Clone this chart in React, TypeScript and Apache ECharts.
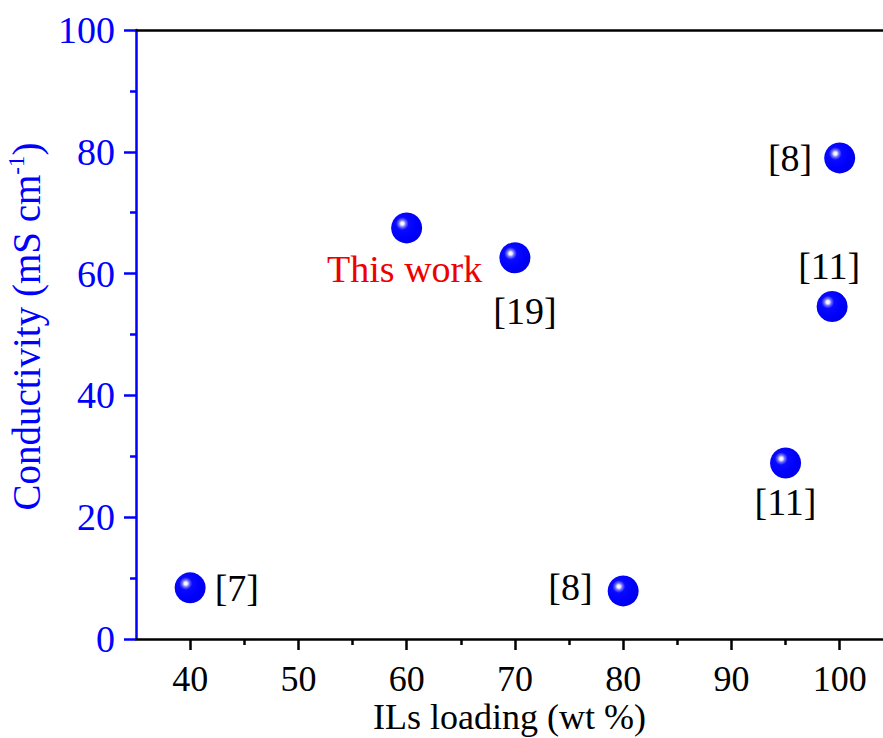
import React, { useEffect, useRef } from "react";
import * as echarts from "echarts";

const loading = [40, 60, 70, 80, 95, 99.3, 100];
const conductivity = [8.4, 67.5, 62.6, 7.9, 28.9, 54.6, 79.0];
const refLabels = ["[7]", "This work", "[19]", "[8]", "[11]", "[11]", "[8]"];
const xMajorTicks = [40, 50, 60, 70, 80, 90, 100];
const xMinorTicks = [45, 55, 65, 75, 85, 95];

const FONT = '"Liberation Serif", "Times New Roman", serif';

const labelStyles: any[] = [
  { position: "right", distance: 9 },
  { position: "bottom", distance: 7, color: "#ee0000", offset: [-2, 0] },
  { position: "bottom", distance: 19, offset: [10, 0] },
  { position: "left", distance: 15, offset: [0, -4] },
  { position: "bottom", distance: 5, offset: [0, 0] },
  { position: "top", distance: 6, offset: [-3, 0] },
  { position: "left", distance: 12 },
];

export default function App() {
  const ref = useRef<HTMLDivElement>(null);
  useEffect(() => {
    const chart = echarts.init(ref.current!, null, { renderer: "svg" });
    const ball = new echarts.graphic.RadialGradient(0.36, 0.36, 0.64, [
      { offset: 0, color: "#ffffff" },
      { offset: 0.08, color: "#f0f0ff" },
      { offset: 0.18, color: "#7070ff" },
      { offset: 0.32, color: "#0a0aff" },
      { offset: 0.7, color: "#0000ff" },
      { offset: 1, color: "#0000ea" },
    ]);
    const data = loading.map((x, i) => ({
      value: [x, conductivity[i]],
      label: {
        show: true,
        formatter: refLabels[i],
        fontFamily: FONT,
        fontSize: 38,
        color: "#000000",
        textBorderWidth: 0,
        ...labelStyles[i],
      },
    }));
    chart.setOption({
      animation: false,
      textStyle: { fontFamily: FONT },
      grid: { left: 136, top: 30, right: 0, bottom: 99, containLabel: false, outerBoundsMode: "none" },
      xAxis: [
        {
          type: "value",
          min: 35,
          max: 104,
          name: "ILs loading (wt %)",
          nameLocation: "middle",
          nameGap: 60,
          nameMoveOverlap: false,
          nameTextStyle: { fontFamily: FONT, fontSize: 36, color: "#000000" },
          axisLine: { show: true, onZero: false, lineStyle: { color: "#000000", width: 2.5 } },
          axisTick: { show: true, customValues: xMajorTicks, length: 11, lineStyle: { color: "#000000", width: 2.5 } },
          axisLabel: { customValues: xMajorTicks, margin: 22, fontFamily: FONT, fontSize: 36, color: "#000000" },
          splitLine: { show: false },
        },
        {
          type: "value",
          min: 35,
          max: 104,
          position: "bottom",
          axisLine: { show: false },
          axisTick: { show: true, customValues: xMinorTicks, length: 6, lineStyle: { color: "#000000", width: 2.5 } },
          axisLabel: { show: false },
          splitLine: { show: false },
        },
        {
          type: "value",
          min: 35,
          max: 104,
          position: "top",
          axisLine: { show: true, lineStyle: { color: "#000000", width: 2.5 } },
          axisTick: { show: false },
          axisLabel: { show: false },
          splitLine: { show: false },
        },
      ],
      yAxis: {
        type: "value",
        min: 0,
        max: 100,
        interval: 20,
        name: "Conductivity (mS cm{sup|-1})",
        nameLocation: "middle",
        nameGap: 88,
        nameTextStyle: {
          fontFamily: FONT,
          fontSize: 39,
          color: "#0000ff",
          padding: [0, 0, 0, 16],
          rich: {
            sup: { fontFamily: FONT, fontSize: 23, color: "#0000ff", verticalAlign: "top", padding: [0, 0, 20, 0] },
          },
        },
        axisLine: { show: true, onZero: false, lineStyle: { color: "#0000ff", width: 2.5 } },
        axisTick: { show: true, length: 12, lineStyle: { color: "#0000ff", width: 2.5 } },
        minorTick: { show: true, splitNumber: 2, length: 6, lineStyle: { color: "#0000ff", width: 2.5 } },
        axisLabel: { margin: 21, fontFamily: FONT, fontSize: 38, color: "#0000ff" },
        splitLine: { show: false },
        minorSplitLine: { show: false },
      },
      series: [
        {
          type: "scatter",
          xAxisIndex: 0,
          symbol: "circle",
          symbolSize: 31,
          itemStyle: { color: ball, opacity: 1 },
          data,
        },
      ],
    });
    return () => chart.dispose();
  }, []);
  return (
    <div
      ref={ref}
      style={{ position: "fixed", left: 0, top: 0, width: 883, height: 738, background: "#ffffff" }}
    />
  );
}
